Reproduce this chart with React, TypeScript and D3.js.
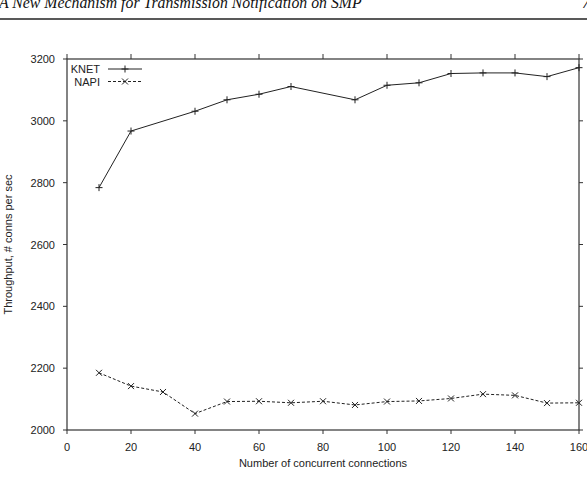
import React from "react";
import * as d3 from "d3";

const knetX = [10, 20, 40, 50, 60, 70, 90, 100, 110, 120, 130, 140, 150, 160];
const knetY = [2784, 2967, 3031, 3068, 3086, 3111, 3068, 3115, 3123, 3153, 3155, 3155, 3143, 3172];
const napiX = [10, 20, 30, 40, 50, 60, 70, 80, 90, 100, 110, 120, 130, 140, 150, 160];
const napiY = [2185, 2142, 2123, 2053, 2092, 2093, 2088, 2093, 2081, 2092, 2094, 2102, 2116, 2112, 2087, 2088];
const xTicks = [0, 20, 40, 60, 80, 100, 120, 140, 160];
const yTicks = [2000, 2200, 2400, 2600, 2800, 3000, 3200];
const seriesNames = ["KNET", "NAPI"];
const headerText = "A New Mechanism for Transmission Notification on SMP";
const xLabel = "Number of concurrent connections";
const yLabel = "Throughput, # conns per sec";

const W = 587, H = 480;
const L = 67, R = 579, T = 59, B = 430;

export default function App() {
  const x = d3.scaleLinear().domain([0, 160]).range([L, R]);
  const y = d3.scaleLinear().domain([2000, 3200]).range([B, T]);
  const line = d3.line<[number, number]>().x(d => x(d[0])).y(d => y(d[1]));
  const knet = knetX.map((v, i) => [v, knetY[i]] as [number, number]);
  const napi = napiX.map((v, i) => [v, napiY[i]] as [number, number]);
  const font = "'Liberation Sans', Arial, sans-serif";
  const col = "#333";
  const plus = (cx: number, cy: number, k: string) => (
    <path key={k} d={`M${cx - 3.5},${cy}H${cx + 3.5}M${cx},${cy - 3.5}V${cy + 3.5}`} stroke="#222" strokeWidth={1} />
  );
  const cross = (cx: number, cy: number, k: string) => (
    <path key={k} d={`M${cx - 3},${cy - 3}L${cx + 3},${cy + 3}M${cx - 3},${cy + 3}L${cx + 3},${cy - 3}`} stroke="#222" strokeWidth={1} />
  );
  return (
    <svg width={W} height={H} style={{ position: "absolute", left: 0, top: 0, background: "#fff" }}>
      <text x={-1} y={8} fontFamily="'Liberation Serif', 'Times New Roman', serif" fontStyle="italic" fontSize={15.8} fill="#111">{headerText}</text>
      <text x={582} y={8} fontFamily="'Liberation Serif', 'Times New Roman', serif" fontStyle="italic" fontSize={15.8} fill="#111">7</text>
      <line x1={0} x2={W} y1={19} y2={19} stroke="#222" strokeWidth={1.6} />
      <rect x={L} y={T} width={R - L} height={B - T} fill="none" stroke={col} strokeWidth={1.2} />
      {xTicks.map(t => (
        <g key={"x" + t}>
          <line x1={x(t)} x2={x(t)} y1={B} y2={B + 4} stroke={col} />
          <line x1={x(t)} x2={x(t)} y1={T} y2={T - 5} stroke={col} />
          <text x={x(t)} y={451} textAnchor="middle" fontFamily={font} fontSize={11} fill="#222">{t}</text>
        </g>
      ))}
      {yTicks.map(t => (
        <g key={"y" + t}>
          <line x1={L} x2={L - 4} y1={y(t)} y2={y(t)} stroke={col} />
          <line x1={R} x2={R + 4} y1={y(t)} y2={y(t)} stroke={col} />
          <text x={55} y={y(t) + 4} textAnchor="end" fontFamily={font} fontSize={11} fill="#222">{t}</text>
        </g>
      ))}
      <text x={(L + R) / 2} y={467} textAnchor="middle" fontFamily={font} fontSize={11} fill="#222">{xLabel}</text>
      <text transform={`translate(12,${(T + B) / 2}) rotate(-90)`} textAnchor="middle" fontFamily={font} fontSize={11} fill="#222">{yLabel}</text>
      <path d={line(knet) || ""} fill="none" stroke="#222" strokeWidth={1} />
      {knet.map((d, i) => plus(x(d[0]), y(d[1]), "k" + i))}
      <path d={line(napi) || ""} fill="none" stroke="#222" strokeWidth={1} strokeDasharray="3,2" />
      {napi.map((d, i) => cross(x(d[0]), y(d[1]), "n" + i))}
      <text x={100} y={73} textAnchor="end" fontFamily={font} fontSize={11} fill="#222">{seriesNames[0]}</text>
      <line x1={108} x2={142} y1={69} y2={69} stroke="#222" />
      {plus(125, 69, "lk")}
      <text x={100} y={85.5} textAnchor="end" fontFamily={font} fontSize={11} fill="#222">{seriesNames[1]}</text>
      <line x1={108} x2={142} y1={81.5} y2={81.5} stroke="#222" strokeDasharray="3,2" />
      {cross(125, 81.5, "ln")}
    </svg>
  );
}
